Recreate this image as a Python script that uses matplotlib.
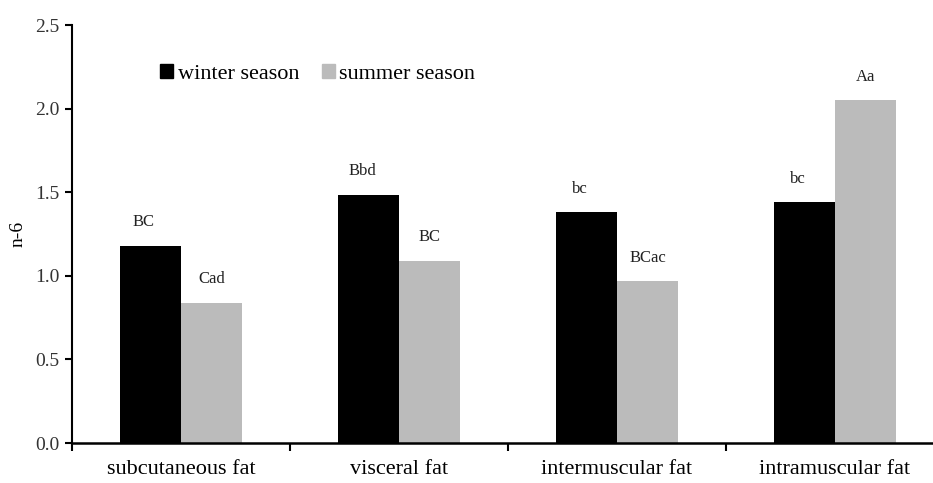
import numpy as np
import matplotlib
matplotlib.use("Agg")
import matplotlib.pyplot as plt
import matplotlib.patches as mpatches

categories = ["subcutaneous fat", "visceral fat", "intermuscular fat", "intramuscular fat"]
winter = [1.18, 1.485, 1.38, 1.44]
summer = [0.84, 1.09, 0.97, 2.05]
winter_labels = ["BC", "Bbd", "bc", "bc"]
summer_labels = ["Cad", "BC", "BCac", "Aa"]
yticks = [0.0, 0.5, 1.0, 1.5, 2.0, 2.5]

plt.rcParams['font.family'] = ['Liberation Serif', 'DejaVu Serif']

fig = plt.figure(figsize=(9.33, 4.83), dpi=100)
ax = fig.add_axes([0.0772, 0.0828, 0.9346, 0.865])

x = np.arange(len(categories))
w = 0.28
ax.bar(x - w / 2, winter, w, color="black", zorder=2)
ax.bar(x + w / 2, summer, w, color="#bbbbbb", zorder=2)

for xi, v, s in zip(x, winter, winter_labels):
    ax.text(xi - w / 2 - 0.03, v + 0.14, s, ha="center", va="center", fontsize=12, color="#222222")
for xi, v, s in zip(x, summer, summer_labels):
    ax.text(xi + w / 2, v + 0.14, s, ha="center", va="center", fontsize=12, color="#222222")

ax.set_xlim(-0.5, 3.5)
ax.set_ylim(0, 2.5)
ax.set_yticks(yticks)
ax.set_yticklabels([f"{t:.1f}" for t in yticks], fontsize=14, color="#333333")
ax.set_xticks(x)
ax.set_xticklabels(categories, fontsize=16)
ax.set_xticks(np.arange(-0.5, 3.6, 1.0), minor=True)
ax.tick_params(axis="x", which="major", length=0, pad=12)
ax.tick_params(axis="x", which="minor", length=6, width=1.5, direction="out")
ax.tick_params(axis="y", length=5, width=1.5, direction="out", pad=4)
ax.set_ylabel("n-6", fontsize=14, labelpad=6)

for side in ["top", "right"]:
    ax.spines[side].set_visible(False)
ax.spines["left"].set_linewidth(1.5)
ax.spines["bottom"].set_linewidth(1.8)

handles = [mpatches.Patch(color="black", label="winter season"),
           mpatches.Patch(color="#bbbbbb", label="summer season")]
ax.legend(handles=handles, loc="upper left", bbox_to_anchor=(0.101, 0.907), ncol=2,
          frameon=False, fontsize=16, handlelength=0.6, handleheight=0.6,
          handletextpad=0.2, columnspacing=1.0, borderpad=0.0, borderaxespad=0.0)

fig.savefig("out.png", dpi=100)
